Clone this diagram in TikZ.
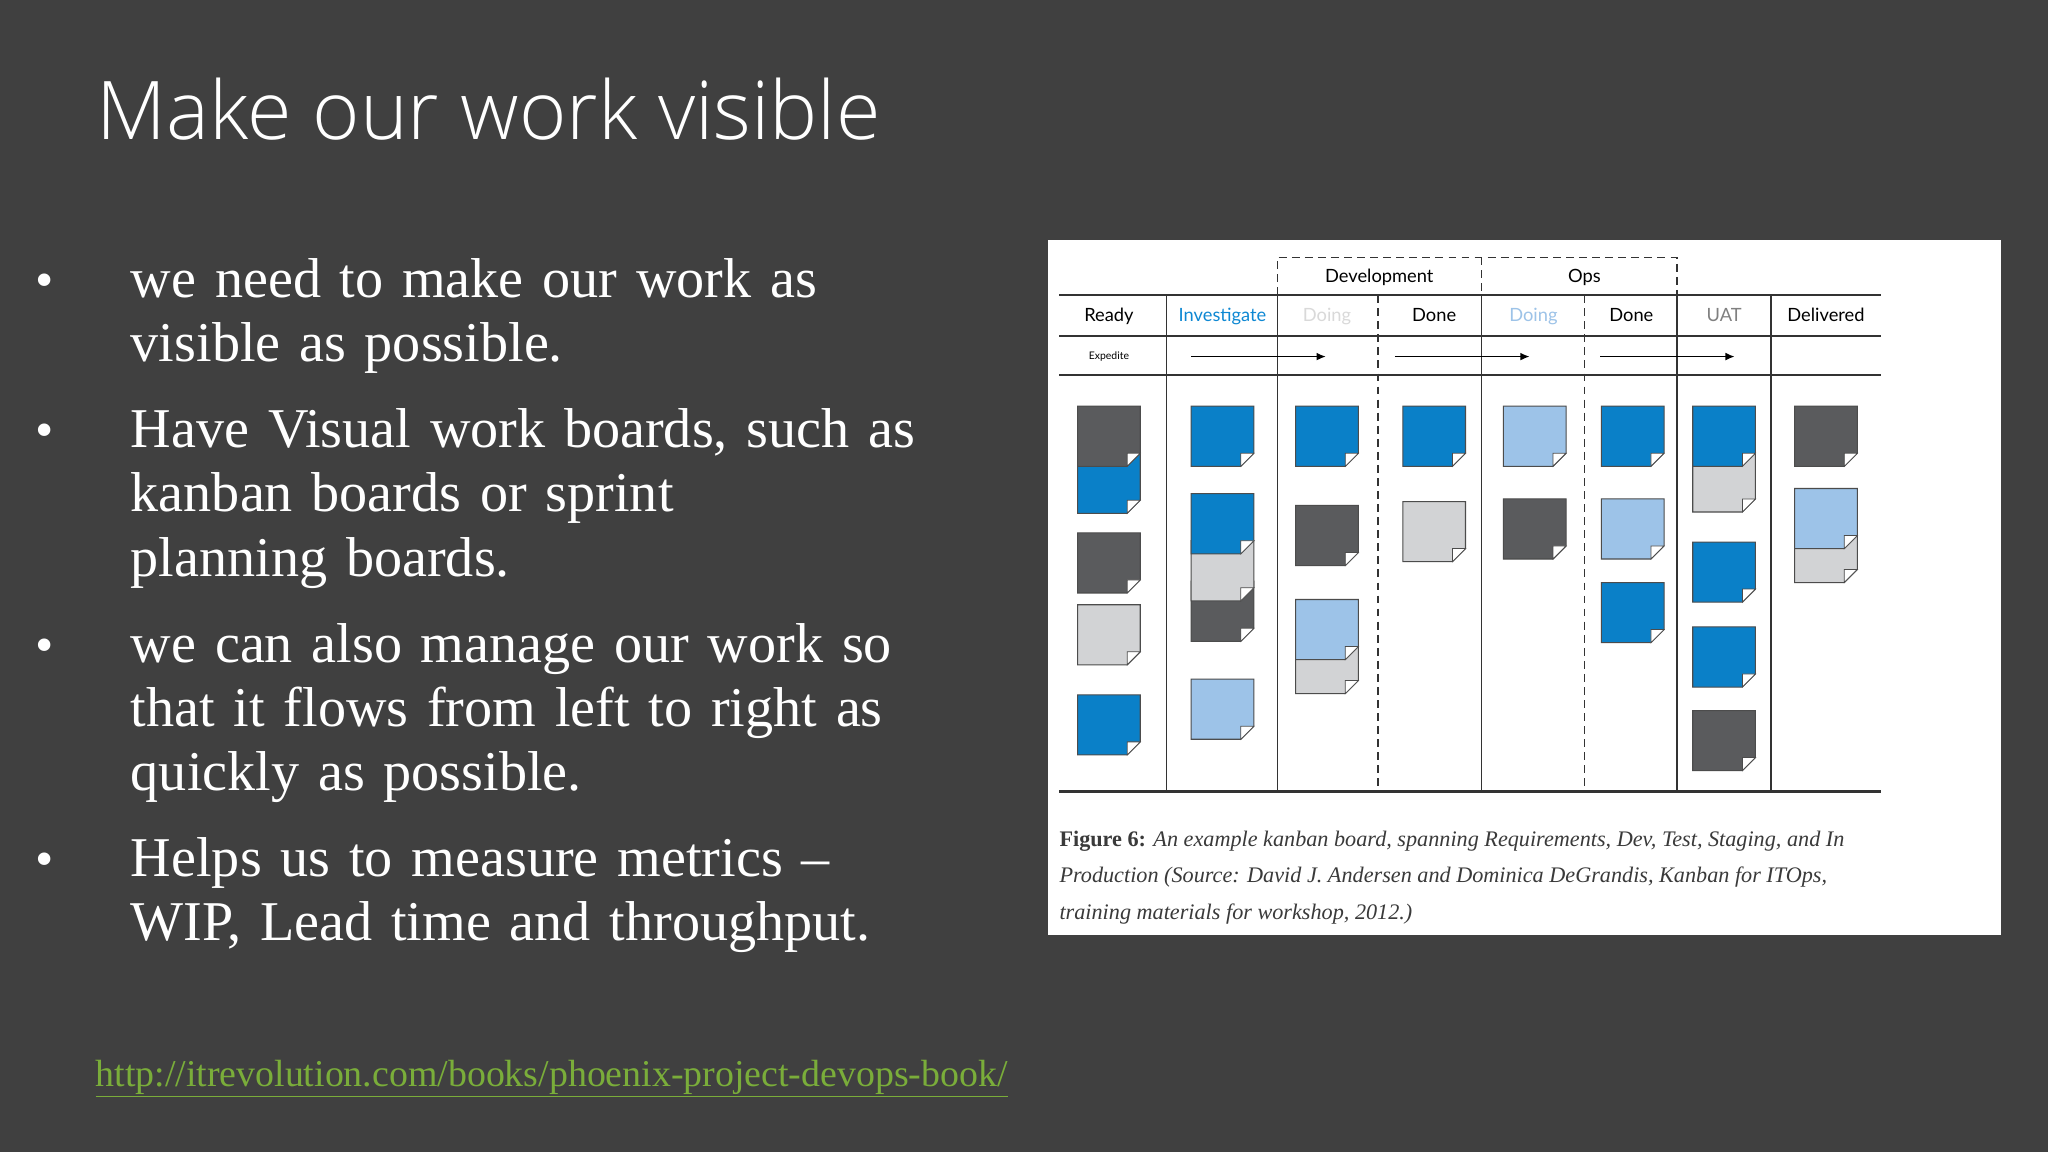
\documentclass[tikz,border=0pt]{standalone}
\usepackage{fontspec}
\setmainfont{Liberation Serif}
\newfontfamily\titlefont{Open Sans Light}
\newfontfamily\boardfont{Lato}
\usetikzlibrary{arrows.meta}
\definecolor{bg}{HTML}{404040}
\definecolor{kblue}{HTML}{0A80C8}
\definecolor{kdark}{HTML}{5A5B5D}
\definecolor{kgray}{HTML}{D2D3D5}
\definecolor{klblue}{HTML}{9DC3E8}
\definecolor{linkgreen}{HTML}{7AAD3A}
\definecolor{capcol}{HTML}{3A3A3A}
\newcommand\kcard[3]{%
  \fill[#3,draw=black!70,line width=0.8pt] (#1,#2) -- ++(48,0) -- ++(0,36) -- ++(-10,10) -- ++(-38,0) -- cycle;
  \fill[white,draw=black!70,line width=0.6pt] (#1+48,#2+36) -- (#1+38,#2+46) -- (#1+38,#2+36) -- cycle;}
\tikzset{
  bullet/.style={anchor=base west,text=white,font=\fontsize{43}{49}\selectfont,align=left,text width=700pt,inner sep=0},
  dot/.style={anchor=base,text=white,font=\fontsize{40}{40}\selectfont,inner sep=0},
  hdr/.style={anchor=base,font=\boardfont\fontsize{14}{14}\selectfont,inner sep=0},
  captext/.style={anchor=base west,text=capcol,font=\fontsize{17}{17}\selectfont\itshape,inner sep=0},
  bline/.style={black!80,line width=1.6pt},
  vline/.style={black!80,line width=1pt},
  dline/.style={black!80,line width=1pt,dash pattern=on 6pt off 4pt}
}
\begin{document}
\begin{tikzpicture}[x=1pt,y=-1pt]
\fill[bg] (0,0) rectangle (1568,882);
\useasboundingbox (0,0) rectangle (1568,882);
\node[anchor=base west,text=white,font=\titlefont\fontsize{62}{62}\selectfont,inner sep=0] (title) at (74,107) {Make our work visible};
\node[bullet] (b1) at (100,228) {we need to make our work as\\visible as possible.};
\node[bullet] (b2) at (100,343) {Have Visual work boards, such as\\kanban boards or sprint\\planning boards.};
\node[bullet] (b3) at (100,507) {we can also manage our work so\\that it flows from left to right as\\quickly as possible.};
\node[bullet] (b4) at (100,671) {Helps us to measure metrics –\\WIP, Lead time and throughput.};
\foreach \y/\n in {228/1,343/2,507/3,671/4} \node[dot] (d\n) at (34,\y) {•};
\node[anchor=base west,text=linkgreen,font=\fontsize{29}{29}\selectfont,inner sep=0] (link) at (73,832) {\underline{http://itrevolution.com/books/phoenix-project-devops-book/}};
% board image
\fill[white] (802,184) rectangle (1532,716);
\draw[bline] (811,226) -- (1440,226);
\draw[bline] (811,257) -- (1440,257);
\draw[bline] (811,287) -- (1440,287);
\draw[bline] (811,606) -- (1440,606);
\foreach \x in {893,978,1134,1284,1356} \draw[vline] (\x,226) -- (\x,606);
\foreach \x in {1055,1213} \draw[dline] (\x,226) -- (\x,606);
\draw[dline] (978,226) -- (978,197) -- (1284,197) -- (1284,226);
\draw[dline] (1134,197) -- (1134,226);
\node[hdr] (hdev) at (1056,216) {Development};
\node[hdr] (hops) at (1213,216) {Ops};
\node[hdr] (h1) at (849,246) {Ready};
\node[hdr,text=cyan!70!blue] (h2) at (936,246) {Investigate};
\node[hdr,text=black!15] (h3) at (1016,246) {Doing};
\node[hdr] (h4) at (1098,246) {Done};
\node[hdr,text=klblue] (h5) at (1174,246) {Doing};
\node[hdr] (h6) at (1249,246) {Done};
\node[hdr,text=black!50] (h7) at (1320,246) {UAT};
\node[hdr] (h8) at (1398,246) {Delivered};
\node[hdr,font=\boardfont\fontsize{8}{8}\selectfont] (hex) at (849,275) {Expedite};
\coordinate (a1s) at (912,273); \coordinate (a1e) at (1015,273);
\coordinate (a2s) at (1068,273); \coordinate (a2e) at (1171,273);
\coordinate (a3s) at (1225,273); \coordinate (a3e) at (1328,273);
\foreach \n in {1,2,3} \draw[black,line width=1pt,-{Latex[length=7pt,width=6pt]}] (a\n s) -- (a\n e);
% cards (lower ones first)
\kcard{825}{347}{kblue}\kcard{825}{311}{kdark}
\kcard{825}{408}{kdark}\kcard{825}{463}{kgray}\kcard{825}{532}{kblue}
\kcard{912}{311}{kblue}
\kcard{912}{445}{kdark}\kcard{912}{414}{kgray}\kcard{912}{378}{kblue}
\kcard{912}{520}{klblue}
\kcard{992}{311}{kblue}\kcard{992}{387}{kdark}
\kcard{992}{485}{kgray}\kcard{992}{459}{klblue}
\kcard{1074}{311}{kblue}\kcard{1074}{384}{kgray}
\kcard{1151}{311}{klblue}\kcard{1151}{382}{kdark}
\kcard{1226}{311}{kblue}\kcard{1226}{382}{klblue}\kcard{1226}{446}{kblue}
\kcard{1296}{346}{kgray}\kcard{1296}{311}{kblue}
\kcard{1296}{415}{kblue}\kcard{1296}{480}{kblue}\kcard{1296}{544}{kdark}
\kcard{1374}{311}{kdark}
\kcard{1374}{400}{kgray}\kcard{1374}{374}{klblue}
% caption
\node[captext] (c1) at (811,648) {\textbf{\upshape Figure 6:} An example kanban board, spanning Requirements, Dev, Test, Staging, and In};
\node[captext] (c2) at (811,676) {Production (Source: David J. Andersen and Dominica DeGrandis, Kanban for ITOps,};
\node[captext] (c3) at (811,704) {training materials for workshop, 2012.)};
\end{tikzpicture}
\end{document}
